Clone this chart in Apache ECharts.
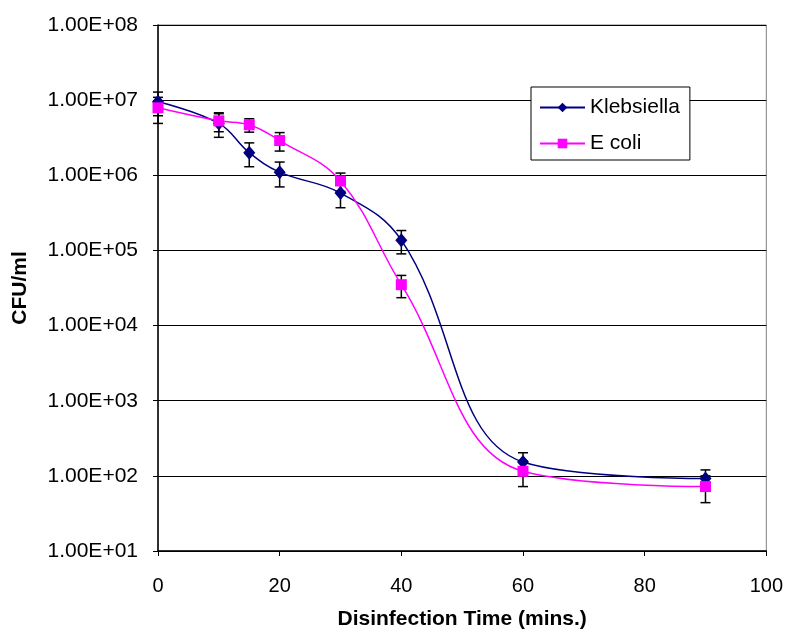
<!DOCTYPE html>
<html>
<head>
<meta charset="UTF-8">
<title>CFU/ml vs disinfection time</title>
<script src="https://cdn.jsdelivr.net/npm/echarts@6/dist/echarts.min.js"></script>
<style>
body { margin: 0; background: #fff; }
#chart { width: 786px; height: 635px; }
</style>
</head>
<body>
<div id="chart"></div>
<script>
// data
var times = [0, 10, 15, 20, 30, 40, 60, 90];
var kleb = [9.5e6, 4.9e6, 2.0e6, 1.1e6, 5.8e5, 1.37e5, 153, 92];
var klebErr = [3.3e6, 1.7e6, 0.7e6, 0.4e6, 2.1e5, 4.7e4, 50, 28];
var ecoli = [7.9e6, 5.3e6, 4.7e6, 2.9e6, 8.4e5, 3.5e4, 115, 72];
var ecoliErr = [3.0e6, 1.5e6, 0.95e6, 0.8e6, 2.3e5, 1.15e4, 43, 28];
var xTicks = [0, 20, 40, 60, 80, 100];

var FONT = 'Liberation Sans';

function pairs(vals) {
    return times.map(function (t, i) { return [t, vals[i]]; });
}
function errRows(vals, errs) {
    return times.map(function (t, i) { return [t, vals[i] - errs[i], vals[i] + errs[i]]; });
}

// error bar drawing
function errBar(params, api) {
    var lo = api.coord([api.value(0), api.value(1)]);
    var hi = api.coord([api.value(0), api.value(2)]);
    var w = 5;
    var st = { stroke: '#000', lineWidth: 1.5 };
    return {
        type: 'group',
        children: [
            { type: 'line', shape: { x1: lo[0], y1: lo[1], x2: hi[0], y2: hi[1] }, style: st },
            { type: 'line', shape: { x1: lo[0] - w, y1: lo[1], x2: lo[0] + w, y2: lo[1] }, style: st },
            { type: 'line', shape: { x1: hi[0] - w, y1: hi[1], x2: hi[0] + w, y2: hi[1] }, style: st }
        ]
    };
}

function sciLabel(v) {
    var e = Math.round(Math.log10(v));
    return '1.00E+' + (e < 10 ? '0' : '') + e;
}

var chart = echarts.init(document.getElementById('chart'));
chart.setOption({
    animation: false,
    backgroundColor: '#fff',
    textStyle: { fontFamily: FONT },
    grid: {
        left: 158, right: 19, top: 25, bottom: 82,
        show: true, borderColor: '#808080', borderWidth: 1
    },
    legend: {
        data: ['Klebsiella', 'E coli'],
        orient: 'vertical',
        left: 531, top: 87,
        backgroundColor: '#fff',
        borderColor: '#000', borderWidth: 1,
        padding: [10, 10, 6, 8],
        itemGap: 15,
        itemWidth: 45, itemHeight: 12,
        textStyle: { fontFamily: FONT, fontSize: 21, color: '#000' }
    },
    xAxis: {
        type: 'value',
        min: 0, max: 100, interval: 20,
        name: 'Disinfection Time (mins.)',
        nameLocation: 'middle',
        nameGap: 58,
        nameTextStyle: { fontFamily: FONT, fontSize: 21, fontWeight: 'bold', color: '#000' },
        axisLine: { lineStyle: { color: '#000', width: 1.5 } },
        axisTick: { show: true, length: 5, lineStyle: { color: '#000' } },
        axisLabel: {
            fontFamily: FONT, fontSize: 20, color: '#000', margin: 25,
            formatter: function (v) { return xTicks.indexOf(v) >= 0 ? String(v) : ''; }
        },
        splitLine: { show: false }
    },
    yAxis: {
        type: 'log',
        logBase: 10,
        min: 10, max: 1e8,
        name: 'CFU/ml',
        nameLocation: 'middle',
        nameGap: 127,
        nameRotate: 90,
        nameTextStyle: { fontFamily: FONT, fontSize: 21, fontWeight: 'bold', color: '#000' },
        axisLine: { show: true, lineStyle: { color: '#000', width: 1.5 } },
        axisTick: { show: true, length: 5, lineStyle: { color: '#000' } },
        axisLabel: { fontFamily: FONT, fontSize: 21, color: '#000', margin: 20, formatter: sciLabel },
        splitLine: { show: true, lineStyle: { color: '#000', width: 1.2 } },
        minorTick: { show: false }
    },
    series: [
        {
            name: 'Klebsiella err', type: 'custom', renderItem: errBar,
            data: errRows(kleb, klebErr), z: 1, silent: true
        },
        {
            name: 'E coli err', type: 'custom', renderItem: errBar,
            data: errRows(ecoli, ecoliErr), z: 1, silent: true
        },
        {
            name: 'Klebsiella', type: 'line', smooth: 0.4,
            data: pairs(kleb),
            symbol: 'diamond', symbolSize: [12, 14],
            lineStyle: { color: '#000080', width: 1.5 },
            itemStyle: { color: '#000080' },
            z: 3
        },
        {
            name: 'E coli', type: 'line', smooth: 0.4,
            data: pairs(ecoli),
            symbol: 'rect', symbolSize: 11,
            lineStyle: { color: '#FF00FF', width: 1.5 },
            itemStyle: { color: '#FF00FF' },
            z: 4
        }
    ]
});
</script>
</body>
</html>
